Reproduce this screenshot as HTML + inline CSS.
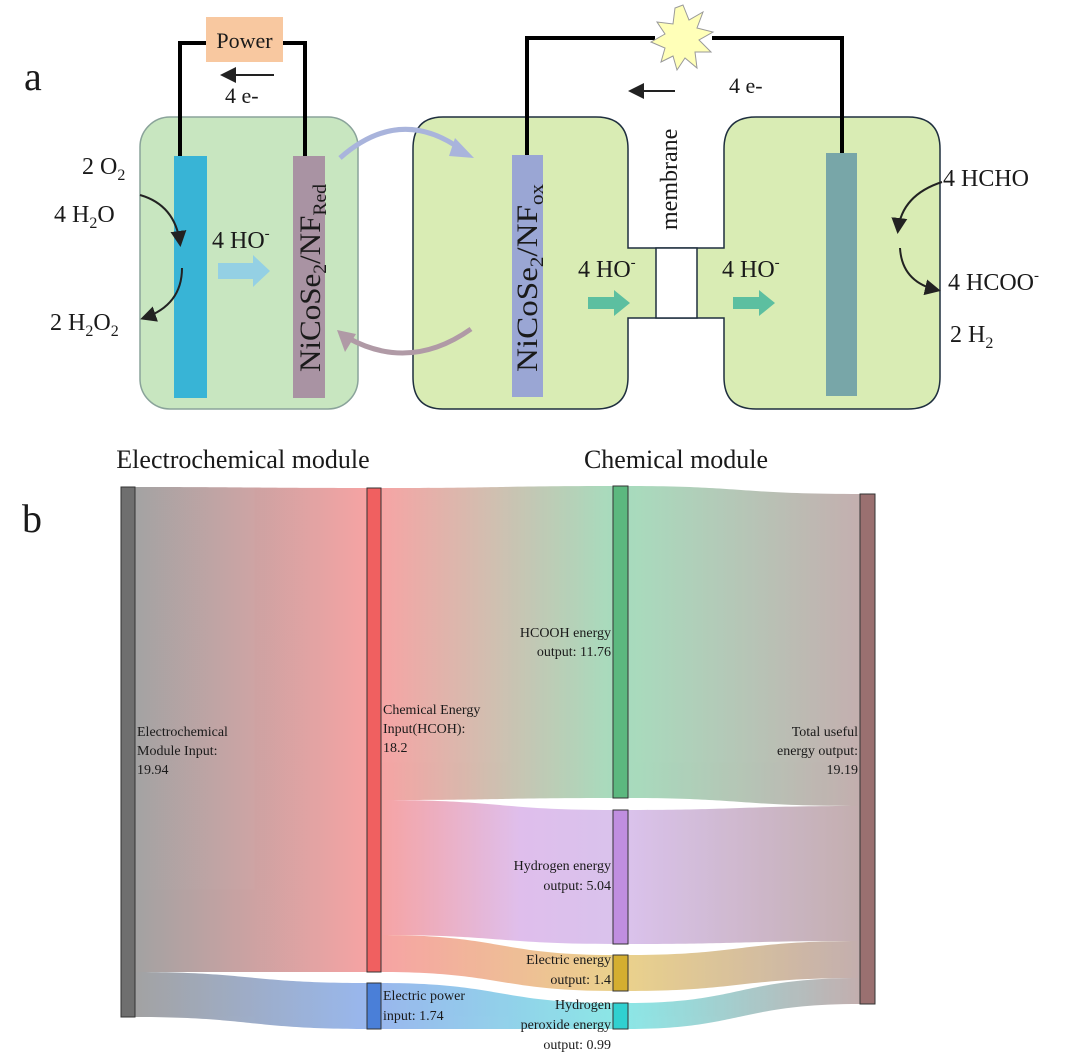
<!DOCTYPE html>
<html><head><meta charset="utf-8"><style>
body{margin:0;background:#fff}
svg{display:block}
text{font-family:"Liberation Serif",serif;fill:#1a1a1a}
</style></head><body>
<svg width="1080" height="1054" viewBox="0 0 1080 1054" xmlns="http://www.w3.org/2000/svg">
<defs>
<marker id="ah" markerWidth="8" markerHeight="8" refX="6" refY="4" orient="auto"><path d="M0,0 L8,4 L0,8 z" fill="#222"/></marker>
<linearGradient id="g12" x1="0" x2="1"><stop offset="0" stop-color="#999"/><stop offset="1" stop-color="#f59a9a"/></linearGradient>
<linearGradient id="g13" x1="0" x2="1"><stop offset="0" stop-color="#999"/><stop offset="1" stop-color="#8eb0ec"/></linearGradient>
<linearGradient id="gA" x1="0" x2="1"><stop offset="0" stop-color="#f59a9a"/><stop offset="1" stop-color="#9ed8b6"/></linearGradient>
<linearGradient id="gB" x1="0" x2="1"><stop offset="0" stop-color="#f59a9a"/><stop offset=".6" stop-color="#dcb8ea"/><stop offset="1" stop-color="#d6bcea"/></linearGradient>
<linearGradient id="gC" x1="0" x2="1"><stop offset="0" stop-color="#f59a9a"/><stop offset="1" stop-color="#e8cc80"/></linearGradient>
<linearGradient id="gD" x1="0" x2="1"><stop offset="0" stop-color="#8eb0ec"/><stop offset="1" stop-color="#80e4e4"/></linearGradient>
<linearGradient id="hA" x1="0" x2="1"><stop offset="0" stop-color="#9ed8b6"/><stop offset="1" stop-color="#bda6a6"/></linearGradient>
<linearGradient id="hB" x1="0" x2="1"><stop offset="0" stop-color="#d6bcea"/><stop offset="1" stop-color="#bda6a6"/></linearGradient>
<linearGradient id="hC" x1="0" x2="1"><stop offset="0" stop-color="#e8cc80"/><stop offset="1" stop-color="#bda6a6"/></linearGradient>
<linearGradient id="hD" x1="0" x2="1"><stop offset="0" stop-color="#80e4e4"/><stop offset="1" stop-color="#bda6a6"/></linearGradient>
</defs>

<!-- Part a -->
<text x="24" y="90" font-size="40">a</text>
<rect x="140" y="117" width="218" height="292" rx="30" fill="#c8e6c0" stroke="#8aa39a" stroke-width="1.5"/>
<path d="M180,157 V43 H210 M280,43 H305 V157" fill="none" stroke="#000" stroke-width="4"/>
<rect x="206" y="17" width="77" height="45" fill="#f8c8a0"/>
<text x="244.5" y="48" font-size="22" text-anchor="middle">Power</text>
<line x1="274" y1="75" x2="224" y2="75" stroke="#222" stroke-width="2" marker-end="url(#ah)"/>
<text x="225" y="103" font-size="22">4 e-</text>
<rect x="174" y="156" width="33" height="242" fill="#38b4d6"/>
<rect x="293" y="156" width="32" height="242" fill="#a993a3"/>
<text transform="translate(320,372) rotate(-90)" font-size="30" textLength="188" lengthAdjust="spacingAndGlyphs">NiCoSe<tspan font-size="19" dy="6">2</tspan><tspan dy="-6">/NF</tspan><tspan font-size="19" dy="6">Red</tspan></text>
<text x="82" y="174" font-size="24">2 O<tspan font-size="16" dy="6">2</tspan></text>
<text x="54" y="222" font-size="24">4 H<tspan font-size="16" dy="6">2</tspan><tspan dy="-6">O</tspan></text>
<text x="50" y="330" font-size="24">2 H<tspan font-size="16" dy="6">2</tspan><tspan dy="-6">O</tspan><tspan font-size="16" dy="6">2</tspan></text>
<path d="M140,195 Q175,205 180,243" fill="none" stroke="#222" stroke-width="2" marker-end="url(#ah)"/>
<path d="M182,268 Q182,305 144,318" fill="none" stroke="#222" stroke-width="2" marker-end="url(#ah)"/>
<text x="212" y="248" font-size="24">4 HO<tspan font-size="15" dy="-10">-</tspan></text>
<path d="M218,263 H253 V255 L270,271 L253,287 V279 H218 z" fill="#94d0e4"/>

<!-- H cell -->
<path d="M443,117 H596 Q628,117 628,149 V248 H724 V149 Q724,117 756,117 H908 Q940,117 940,149 V377 Q940,409 908,409 H756 Q724,409 724,377 V318 H628 V377 Q628,409 596,409 H443 Q413,409 413,377 V149 Q413,117 443,117 z" fill="#d9ecb4" stroke="#1f2f3f" stroke-width="1.5"/>
<rect x="656" y="248" width="41" height="70" fill="#fff" stroke="#1f2f3f" stroke-width="1.5"/>
<rect x="512" y="155" width="31" height="242" fill="#9aa6d4"/>
<rect x="826" y="153" width="31" height="243" fill="#78a6a8"/>

<!-- curved arrows between cells -->
<path d="M340,158 Q400,105 462,150" fill="none" stroke="#a9b4dc" stroke-width="5"/>
<path d="M455,138 L474,158 L449,156 z" fill="#a9b4dc"/>
<path d="M471,329 Q410,372 348,338" fill="none" stroke="#b09aa6" stroke-width="5"/>
<path d="M337,330 L345,352 L356,334 z" fill="#b09aa6"/>

<path d="M527,155 V38 H655 M712,38 H842 V153" fill="none" stroke="#000" stroke-width="4"/>
<polygon points="683,5 689,20 703,12 697,28 713,32 699,40 711,52 695,52 697,68 685,58 677,70 673,56 661,62 665,48 651,42 665,34 657,22 673,24 675,8" fill="#ffffb8" stroke="#999" stroke-width="1"/>
<line x1="675" y1="91" x2="632" y2="91" stroke="#222" stroke-width="2" marker-end="url(#ah)"/>
<text x="729" y="93" font-size="22">4 e-</text>
<text transform="translate(677,230) rotate(-90)" font-size="24">membrane</text>
<text transform="translate(537,372) rotate(-90)" font-size="30" textLength="188" lengthAdjust="spacingAndGlyphs">NiCoSe<tspan font-size="19" dy="6">2</tspan><tspan dy="-6">/NF</tspan><tspan font-size="19" dy="6">ox</tspan></text>
<text x="578" y="277" font-size="24">4 HO<tspan font-size="15" dy="-10">-</tspan></text>
<text x="722" y="277" font-size="24">4 HO<tspan font-size="15" dy="-10">-</tspan></text>
<path d="M588,297 H614 V290 L630,303 L614,316 V309 H588 z" fill="#5cbfa0"/>
<path d="M733,297 H759 V290 L775,303 L759,316 V309 H733 z" fill="#5cbfa0"/>
<text x="943" y="186" font-size="24">4 HCHO</text>
<text x="948" y="290" font-size="24">4 HCOO<tspan font-size="15" dy="-10">-</tspan></text>
<text x="950" y="342" font-size="24">2 H<tspan font-size="16" dy="6">2</tspan></text>
<path d="M942,182 Q902,195 898,230" fill="none" stroke="#222" stroke-width="2" marker-end="url(#ah)"/>
<path d="M900,248 Q902,282 937,290" fill="none" stroke="#222" stroke-width="2" marker-end="url(#ah)"/>

<!-- Part b -->
<text x="243" y="468" font-size="26" text-anchor="middle">Electrochemical module</text>
<text x="676" y="468" font-size="26" text-anchor="middle">Chemical module</text>
<text x="22" y="532" font-size="40">b</text>

<g opacity="0.9">
<path d="M135,487 C250,487 250,488 367,488 V972 C250,972 250,972 135,972 z" fill="url(#g12)"/>
<path d="M135,972 C250,972 250,983 367,983 V1029 C250,1029 250,1017 135,1017 z" fill="url(#g13)"/>
<path d="M381,488 C500,488 500,486 613,486 V798 C500,798 500,800 381,800 z" fill="url(#gA)"/>
<path d="M381,800 C500,800 500,810 613,810 V944 C500,944 500,935 381,935 z" fill="url(#gB)"/>
<path d="M381,935 C500,935 500,955 613,955 V991 C500,991 500,972 381,972 z" fill="url(#gC)"/>
<path d="M381,983 C500,983 500,1003 613,1003 V1029 C500,1029 500,1029 381,1029 z" fill="url(#gD)"/>
<path d="M628,486 C740,486 740,494 860,494 V806 C740,806 740,798 628,798 z" fill="url(#hA)"/>
<path d="M628,810 C740,810 740,806 860,806 V941 C740,941 740,944 628,944 z" fill="url(#hB)"/>
<path d="M628,955 C740,955 740,941 860,941 V978 C740,978 740,991 628,991 z" fill="url(#hC)"/>
<path d="M628,1003 C740,1003 740,978 860,978 V1004 C740,1004 740,1029 628,1029 z" fill="url(#hD)"/>
</g>

<g stroke="#333" stroke-width="1">
<rect x="121" y="487" width="14" height="530" fill="#6f6f6f"/>
<rect x="367" y="488" width="14" height="484" fill="#f06060"/>
<rect x="367" y="983" width="14" height="46" fill="#4a7fd8"/>
<rect x="613" y="486" width="15" height="312" fill="#5cb87f"/>
<rect x="613" y="810" width="15" height="134" fill="#c08ee0"/>
<rect x="613" y="955" width="15" height="36" fill="#d4ae30"/>
<rect x="613" y="1003" width="15" height="26" fill="#30d0d0"/>
<rect x="860" y="494" width="15" height="510" fill="#9a7070"/>
</g>

<g font-size="14">
<text x="137" y="736">Electrochemical</text>
<text x="137" y="755">Module Input:</text>
<text x="137" y="774">19.94</text>
<text x="383" y="714">Chemical Energy</text>
<text x="383" y="733">Input(HCOH):</text>
<text x="383" y="752">18.2</text>
<text x="611" y="637" text-anchor="end">HCOOH energy</text>
<text x="611" y="656" text-anchor="end">output: 11.76</text>
<text x="611" y="870" text-anchor="end">Hydrogen energy</text>
<text x="611" y="890" text-anchor="end">output: 5.04</text>
<text x="611" y="964" text-anchor="end">Electric energy</text>
<text x="611" y="984" text-anchor="end">output: 1.4</text>
<text x="611" y="1009" text-anchor="end">Hydrogen</text>
<text x="611" y="1029" text-anchor="end">peroxide energy</text>
<text x="611" y="1049" text-anchor="end">output: 0.99</text>
<text x="383" y="1000">Electric power</text>
<text x="383" y="1020">input: 1.74</text>
<text x="858" y="736" text-anchor="end">Total useful</text>
<text x="858" y="755" text-anchor="end">energy output:</text>
<text x="858" y="774" text-anchor="end">19.19</text>
</g>
</svg>
</body></html>
